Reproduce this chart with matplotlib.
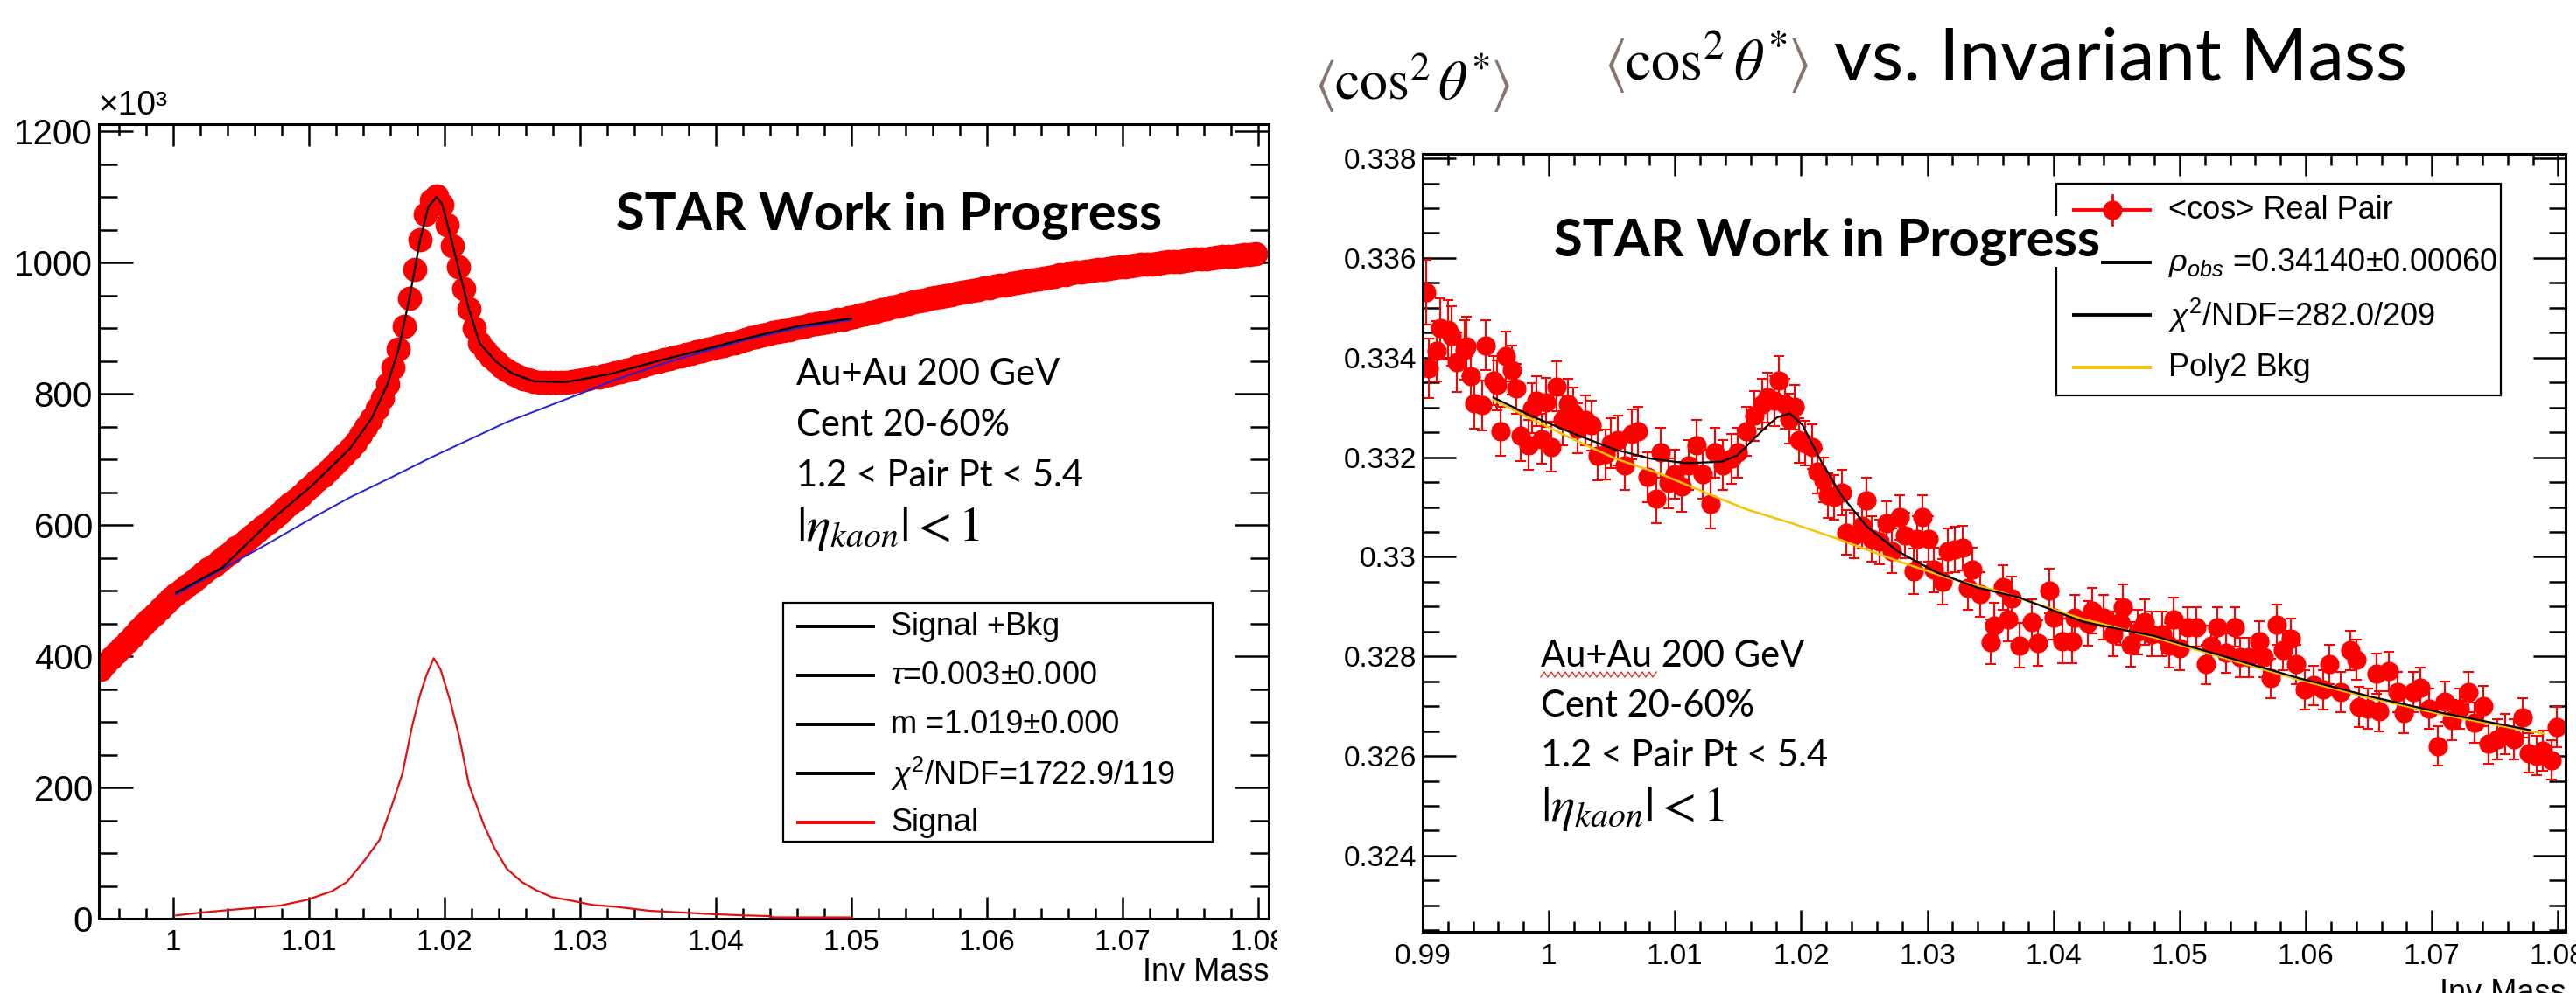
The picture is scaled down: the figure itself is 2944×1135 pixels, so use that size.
import matplotlib
matplotlib.use("Agg")
import matplotlib.pyplot as plt
import numpy as np
from matplotlib.lines import Line2D
from matplotlib.patches import Rectangle
from matplotlib.ticker import MultipleLocator, FuncFormatter
from matplotlib.transforms import Bbox, TransformedBbox

plt.rcParams['font.family'] = ['Liberation Sans', 'DejaVu Sans']
plt.rcParams['mathtext.fontset'] = 'custom'
plt.rcParams['mathtext.rm'] = 'Liberation Sans'
plt.rcParams['mathtext.it'] = 'Liberation Sans:italic'
plt.rcParams['mathtext.bf'] = 'Liberation Sans:bold'

# ---------------- left panel: K+K- invariant mass (counts x10^3) ----------------
left_lo = 0.9946
left_bin = 0.0004
left_counts = [
    380, 389, 397, 406, 414, 423, 431, 440, 448, 456, 464, 472, 480, 488,
    495, 501, 508, 514, 520, 527, 533, 539, 546, 552, 558, 565, 571, 578, 584, 591, 597, 604, 611,
    618, 625, 632, 639, 646, 653, 660, 668, 675, 683, 691, 699, 707, 716,
    726, 737, 749, 762, 777, 794, 815, 840, 868, 903, 945, 990, 1035, 1073, 1095, 1102, 1088, 1058, 1025, 994,
    960, 929, 900, 877, 865, 856, 849, 842, 836, 831, 827, 823, 821, 819, 818, 817, 817, 818, 817, 818,
    819, 820, 822, 823, 825, 826, 828, 830, 832,
    834, 836, 838, 841, 843, 845, 848, 850, 852, 854,
    856, 858, 860, 862, 864, 866, 868, 870, 872, 874,
    876, 878, 880, 883, 885, 887, 889, 891, 893, 895,
    896, 898, 900, 902, 903, 905, 907, 908, 910, 911,
    913, 914, 916, 918, 920, 922, 924, 926, 928, 930,
    932, 934, 936, 938, 940, 942, 943, 945, 947, 948,
    950, 951, 953, 955, 956, 958, 959, 961, 962, 964,
    965, 966, 968, 969, 971, 972, 974, 975, 976, 978,
    979, 981, 982, 984, 986, 985, 987, 988, 989, 990,
    991, 992, 993, 994, 995, 996, 997, 998, 998, 999,
    1000, 1001, 1002, 1002, 1003, 1004, 1005, 1006, 1006, 1007,
    1008, 1009, 1009, 1010, 1011, 1012, 1012, 1014]

fit_x = [1.0002, 1.0036, 1.0074, 1.0102, 1.0130, 1.0146, 1.0158, 1.0166, 1.0174, 1.0182,
         1.0188, 1.0194, 1.0198, 1.0202, 1.0210, 1.0218, 1.0226, 1.0238, 1.0250, 1.0266,
         1.0290, 1.0322, 1.0361, 1.0394, 1.0427, 1.0460, 1.0500]
fit_y = [497, 535, 611, 660, 716, 762, 815, 868, 945, 1035,
         1085, 1100, 1090, 1060, 994, 929, 877, 849, 831, 819,
         818, 830, 852, 869, 887, 903, 915]

bkg_x = [1.0002, 1.0036, 1.0070, 1.0100, 1.0130, 1.0160, 1.0190, 1.0218, 1.0246, 1.0275,
         1.0300, 1.0324, 1.0361, 1.0394, 1.0427, 1.0460, 1.0500]
bkg_y = [494, 533, 572, 608, 642, 672, 703, 730, 757, 780,
         800, 820, 846, 866, 885, 900, 913]

sig_x = [1.0002, 1.0019, 1.0040, 1.0057, 1.0079, 1.0099, 1.0117, 1.0128, 1.0141, 1.0152,
         1.0162, 1.0169, 1.0176, 1.0182, 1.0187, 1.0192, 1.0197, 1.0204, 1.0211, 1.0218,
         1.0229, 1.0237, 1.0246, 1.0257, 1.0267, 1.0279, 1.0295, 1.0309, 1.0327, 1.0351,
         1.0379, 1.0397, 1.0421, 1.0439, 1.0443, 1.0500]
sig_y = [5, 9, 13, 16, 20, 29, 42, 56, 89, 120,
         178, 222, 293, 342, 373, 397, 380, 333, 276, 204,
         143, 107, 76, 56, 44, 33, 27, 21, 18, 12,
         9, 7, 5, 4, 2, 2]

# ---------------- right panel: <cos^2 theta*> vs invariant mass ----------------
cos_x = [0.9903, 0.9905, 0.9911, 0.9914, 0.9920, 0.9923, 0.9927, 0.9933, 0.9935, 0.9938,
         0.9941, 0.9947, 0.9950, 0.9956, 0.9959, 0.9962, 0.9966, 0.9971, 0.9974, 0.9978,
         0.9984, 0.9987, 0.9990, 0.9994, 0.9998, 1.0002, 1.0006, 1.0011, 1.0015, 1.0019,
         1.0023, 1.0029, 1.0034, 1.0039, 1.0045, 1.0049, 1.0055, 1.0060, 1.0066, 1.0071,
         1.0078, 1.0085, 1.0089, 1.0095, 1.0100, 1.0105, 1.0111, 1.0117, 1.0122, 1.0128,
         1.0132, 1.0138, 1.0145, 1.0150, 1.0157, 1.0163, 1.0169, 1.0173, 1.0179, 1.0182,
         1.0187, 1.0191, 1.0195, 1.0198, 1.0203, 1.0209, 1.0213, 1.0218, 1.0221, 1.0226,
         1.0232, 1.0236, 1.0242, 1.0248, 1.0252, 1.0256, 1.0262, 1.0268, 1.0272, 1.0278,
         1.0282, 1.0289, 1.0292, 1.0296, 1.0301, 1.0305, 1.0312, 1.0316, 1.0322, 1.0328,
         1.0332, 1.0336, 1.0342, 1.0350, 1.0353, 1.0360, 1.0364,
         1.0367, 1.0373, 1.0383, 1.0388, 1.0397, 1.0400, 1.0407, 1.0415, 1.0417, 1.0427,
         1.0431, 1.0440, 1.0447, 1.0453, 1.0455, 1.0461, 1.0467, 1.0472, 1.0478, 1.0486,
         1.0492, 1.0495, 1.0500, 1.0506, 1.0513, 1.0521, 1.0525, 1.0530, 1.0537, 1.0544,
         1.0548, 1.0555, 1.0563, 1.0567, 1.0572, 1.0577, 1.0582, 1.0588, 1.0592, 1.0599,
         1.0606, 1.0614, 1.0619, 1.0628, 1.0635, 1.0640, 1.0642, 1.0649, 1.0656, 1.0658,
         1.0666, 1.0673, 1.0678, 1.0685, 1.0691, 1.0698, 1.0705, 1.0710, 1.0716, 1.0722,
         1.0729, 1.0734, 1.0741, 1.0745, 1.0752, 1.0758, 1.0765, 1.0772, 1.0777, 1.0783,
         1.0788, 1.0795, 1.0799]
cos_y = [0.33532, 0.33378, 0.33413, 0.33459, 0.33456, 0.33444, 0.33391, 0.33416, 0.33422, 0.33363,
         0.33308, 0.33304, 0.33425, 0.33354, 0.33345, 0.33252, 0.33403, 0.33375, 0.33338, 0.33243,
         0.33224, 0.33298, 0.33313, 0.33237, 0.33310, 0.33221, 0.33342, 0.33274, 0.33307, 0.33289,
         0.33258, 0.33274, 0.33264, 0.33203, 0.33206, 0.33228, 0.33234, 0.33184, 0.33246, 0.33252,
         0.33160, 0.33117, 0.33209, 0.33148, 0.33166, 0.33141, 0.33184, 0.33224, 0.33166, 0.33107,
         0.33209, 0.33184, 0.33197, 0.33209, 0.33252, 0.33283, 0.33307, 0.33320, 0.33313, 0.33354,
         0.33307, 0.33277, 0.33301, 0.33234, 0.33228, 0.33221, 0.33172, 0.33154, 0.33123, 0.33120,
         0.33129, 0.33049, 0.33043, 0.33062, 0.33114, 0.33036, 0.33030, 0.33067, 0.33012, 0.33079,
         0.33043, 0.32971, 0.33036, 0.33079, 0.33036, 0.32974, 0.32950, 0.33012, 0.33015, 0.33018,
         0.32938, 0.32974, 0.32925, 0.32829, 0.32862, 0.32939, 0.32875,
         0.32916, 0.32822, 0.32869, 0.32827, 0.32932, 0.32878, 0.32831, 0.32831, 0.32878, 0.32867,
         0.32892, 0.32878, 0.32845, 0.32869, 0.32899, 0.32824, 0.32849, 0.32869, 0.32845, 0.32845,
         0.32822, 0.32874, 0.32817, 0.32859, 0.32859, 0.32784, 0.32822, 0.32859, 0.32807, 0.32859,
         0.32798, 0.32798, 0.32831, 0.32798, 0.32756, 0.32864, 0.32812, 0.32836, 0.32784, 0.32733,
         0.32742, 0.32733, 0.32784, 0.32728, 0.32812, 0.32793, 0.32699, 0.32695, 0.32765, 0.32690,
         0.32770, 0.32728, 0.32686, 0.32728, 0.32737, 0.32695, 0.32620, 0.32709, 0.32672, 0.32695,
         0.32728, 0.32667, 0.32700, 0.32625, 0.32634, 0.32644, 0.32634, 0.32677, 0.32606, 0.32601,
         0.32611, 0.32592, 0.32658]
cos_err = [0.00065] + [0.0006] * 9 + [0.0005] * 52 + [0.00045] * 58 + [0.0004] * 50

sb_x = [0.9956, 0.9986, 1.0021, 1.0053, 1.0081, 1.0109, 1.0137, 1.0149, 1.0159, 1.0171,
        1.0181, 1.0191, 1.0201, 1.0216, 1.0232, 1.0252, 1.0276, 1.0307, 1.0340, 1.0372,
        1.0424, 1.0480, 1.0538, 1.0595, 1.0652, 1.0709, 1.0766, 1.0778]
sb_y = [0.33320, 0.33283, 0.33246, 0.33215, 0.33197, 0.33188, 0.33191, 0.33203, 0.33228, 0.33258,
        0.33280, 0.33288, 0.33265, 0.33191, 0.33123, 0.33061, 0.33012, 0.32969, 0.32938, 0.32919,
        0.32869, 0.32841, 0.32798, 0.32756, 0.32719, 0.32686, 0.32658, 0.32652]

poly_x = [0.9956, 0.9986, 1.0021, 1.0053, 1.0089, 1.0125, 1.0157, 1.0193, 1.0229, 1.0276,
          1.0316, 1.0356, 1.0422, 1.0480, 1.0538, 1.0595, 1.0652, 1.0709, 1.0766, 1.0789]
poly_y = [0.33315, 0.33277, 0.33234, 0.33197, 0.33166, 0.33128, 0.33095, 0.33067, 0.33036, 0.32992,
          0.32958, 0.32931, 0.32876, 0.32838, 0.32795, 0.32753, 0.32716, 0.32683, 0.32655, 0.32645]

info_lines = ['Au+Au 200 GeV', 'Cent 20-60%', '1.2 < Pair Pt < 5.4']
eta_line = r'$|\eta_{kaon}| < 1$'
cos_label = [r'$\langle$', r'$\cos^{2}\theta^{*}$', r'$\rangle$']

W, H = 2944, 1135
RED = '#ff0000'
BLUE = '#2020dd'
GOLD = '#f5c400'
BRACKET = '#8a7470'


def fx(p):
    return p / W


def fy(p):
    return 1 - p / H


def root_axes(ax, ymaj, ymin, ysize):
    for s in ax.spines.values():
        s.set_linewidth(2.2)
    ax.tick_params(which='both', direction='in', top=True, right=True, width=1.8)
    ax.tick_params(axis='x', which='major', length=18, pad=9, labelsize=24)
    ax.tick_params(axis='x', which='minor', length=9)
    ax.tick_params(axis='y', which='major', length=ymaj, pad=5, labelsize=ysize)
    ax.tick_params(axis='y', which='minor', length=ymin)
    fmt = FuncFormatter(lambda v, p: '%g' % round(v, 6))
    ax.xaxis.set_major_formatter(fmt)
    ax.yaxis.set_major_formatter(fmt)


def draw_legend(box, rows, row_y, x_line, x_text, size):
    l, t, r, b = box
    fig.add_artist(Rectangle((fx(l), fy(b)), fx(r) - fx(l), fy(t) - fy(b),
                             transform=fig.transFigure, facecolor='white',
                             edgecolor='black', linewidth=1.6, zorder=5))
    for (label, color, kind), y in zip(rows, row_y):
        fig.add_artist(Line2D([fx(x_line[0]), fx(x_line[1])], [fy(y), fy(y)],
                              transform=fig.transFigure, color=color, lw=2.8, zorder=6))
        if kind == 'marker':
            xm = (x_line[0] + x_line[1]) / 2
            fig.add_artist(Line2D([fx(xm), fx(xm)], [fy(y - 17), fy(y + 17)],
                                  transform=fig.transFigure, color=color, lw=2, zorder=6))
            fig.add_artist(Line2D([fx(xm)], [fy(y)], marker='o', ms=15, color=color,
                                  transform=fig.transFigure, zorder=7))
        fig.text(fx(x_text), fy(y), label, fontsize=size, va='center', ha='left', zorder=7)


def bracket_math(x, y, size, center=False):
    # <cos^2 theta*> with the greyish slide-coloured angle brackets
    r = fig.canvas.get_renderer()
    colors = [BRACKET, 'black', BRACKET]
    texts = [fig.text(0, fy(y), s, color=c, fontsize=size, math_fontfamily='stix',
                      va='baseline') for s, c in zip(cos_label, colors)]
    widths = [t.get_window_extent(renderer=r).width for t in texts]
    cur = x - sum(widths) / 2 if center else x
    for t, w in zip(texts, widths):
        t.set_x(fx(cur))
        cur += w


fig = plt.figure(figsize=(W / 100, H / 100), dpi=100)

# ---------- left ----------
axL = fig.add_axes([fx(113), fy(1050), (1450 - 113) / W, (1050 - 142) / H])
left_x = left_lo + left_bin * np.arange(len(left_counts))
axL.plot(left_x, left_counts, 'o', ms=19, color=RED, mec=RED, zorder=2)
axL.plot(fit_x, fit_y, color='black', lw=1.6, zorder=4)
axL.plot(bkg_x, bkg_y, color=BLUE, lw=1.4, zorder=3)
axL.plot(sig_x, sig_y, color='#e01010', lw=1.6, zorder=3)
axL.set_xlim(0.9945, 1.0808)
axL.set_ylim(0, 1211)
axL.xaxis.set_major_locator(MultipleLocator(0.01))
axL.xaxis.set_minor_locator(MultipleLocator(0.002))
axL.yaxis.set_major_locator(MultipleLocator(200))
axL.yaxis.set_minor_locator(MultipleLocator(50))
root_axes(axL, 28, 15, 29)
fig.text(fx(112), fy(139), u'\u00d710\u00b3', fontsize=28, ha='left', va='bottom')
fig.text(fx(1450), fy(1094), 'Inv Mass', fontsize=26, ha='right', va='top')

fig.text(fx(704), fy(246), 'STAR Work in Progress', family='Lato', weight='bold',
         fontsize=43, va='center', ha='left')
for i, s in enumerate(info_lines):
    fig.text(fx(910), fy(428 + 58 * i), s, family='Lato', fontsize=30, va='center')
fig.text(fx(910), fy(604), eta_line, fontsize=41, math_fontfamily='stix', va='center')

draw_legend((895, 689, 1386, 962),
            [('Signal +Bkg', 'black', 'line'),
             (r'$\tau$=0.003' + u'\u00b1' + '0.000', 'black', 'line'),
             ('m =1.019' + u'\u00b1' + '0.000', 'black', 'line'),
             (r'$\chi^{2}$/NDF=1722.9/119', 'black', 'line'),
             ('Signal', RED, 'line')],
            [716, 772, 828, 884, 940], (912, 998), 1018, 26)

# ---------- right ----------
axR = fig.add_axes([fx(1626), fy(1065), (2932 - 1626) / W, (1065 - 176) / H])
axR.errorbar(cos_x, cos_y, yerr=cos_err, fmt='o', ms=15, color=RED, mec=RED,
             ecolor=RED, elinewidth=1.5, capsize=4, capthick=1.5, zorder=2)
axR.plot(sb_x, sb_y, color='black', lw=1.6, zorder=4)
axR.plot(poly_x, poly_y, color=GOLD, lw=1.8, zorder=3)
axR.set_xlim(0.99, 1.0806)
axR.set_ylim(0.32247, 0.33809)
axR.xaxis.set_major_locator(MultipleLocator(0.01))
axR.xaxis.set_minor_locator(MultipleLocator(0.002))
axR.yaxis.set_major_locator(MultipleLocator(0.002))
axR.yaxis.set_minor_locator(MultipleLocator(0.0005))
root_axes(axR, 27, 14, 24)
fig.text(fx(2932), fy(1118), 'Inv Mass', fontsize=26, ha='right', va='top')

draw_legend((2350, 210, 2858, 452),
            [('<cos> Real Pair', RED, 'marker'),
             (r'$\rho_{obs}$ =0.34140' + u'\u00b1' + '0.00060', 'black', 'line'),
             (r'$\chi^{2}$/NDF=282.0/209', 'black', 'line'),
             ('Poly2 Bkg', GOLD, 'line')],
            [240, 300, 360, 420], (2370, 2457), 2478, 26)

fig.text(fx(1776), fy(276), 'STAR Work in Progress', family='Lato', weight='bold',
         fontsize=43, va='center', ha='left', zorder=9,
         bbox=dict(facecolor='white', edgecolor='none', pad=1))
for i, s in enumerate(info_lines):
    fig.text(fx(1761), fy(750 + 57 * i), s, family='Lato', fontsize=30, va='center')
fig.text(fx(1761), fy(924), eta_line, fontsize=41, math_fontfamily='stix', va='center')

# spell-check squiggle under "Au+Au" in the slide
sq_x = np.arange(1761, 1896, 4)
sq_y = 771 + 3 * (-1) ** np.arange(len(sq_x))
fig.add_artist(Line2D(fx(sq_x), fy(sq_y), transform=fig.transFigure, color='#e03030', lw=1.0))

# slide title and y label
bracket_math(1614, 114, 46, center=True)
bracket_math(1833, 92, 48)
fig.text(fx(2096), fy(92), 'vs. Invariant Mass', family='Lato', fontsize=60,
         ha='left', va='baseline')

# left picture is cropped just right of its frame: cut the "1.08" label
fig.canvas.draw()
clip = TransformedBbox(Bbox([[0, 0], [fx(1460), 1]]), fig.transFigure)
for t in axL.xaxis.get_major_ticks():
    t.label1.set_clip_box(clip)
    t.label1.set_clip_on(True)

fig.savefig('out.png', dpi=100)
